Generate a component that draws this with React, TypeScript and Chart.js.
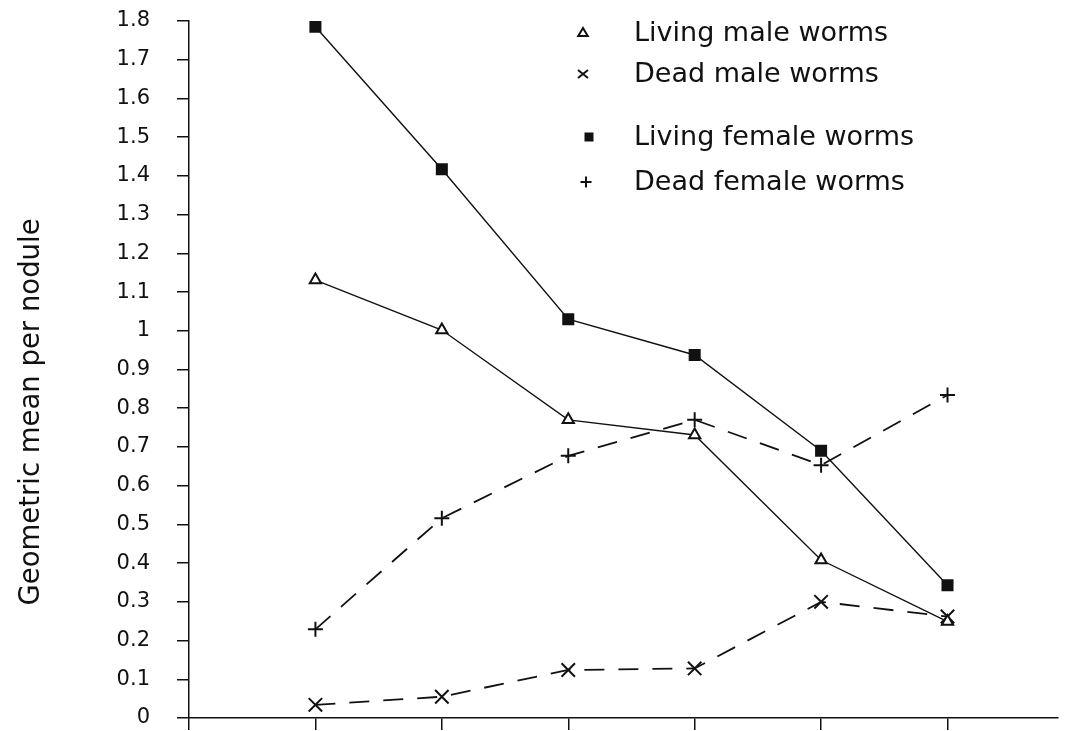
import React, { useEffect, useRef } from "react";
import { Chart, registerables } from "chart.js";

Chart.register(...registerables);

const xPositions = [1, 2, 3, 4, 5, 6];
const livingMale = [1.131, 1.002, 0.77, 0.731, 0.408, 0.249];
const deadMale = [0.034, 0.055, 0.124, 0.128, 0.3, 0.262];
const livingFemale = [1.785, 1.417, 1.03, 0.9375, 0.69, 0.343];
const deadFemale = [0.229, 0.516, 0.677, 0.77, 0.653, 0.834];

const yTickValues = [0, 0.1, 0.2, 0.3, 0.4, 0.5, 0.6, 0.7, 0.8, 0.9, 1, 1.1, 1.2, 1.3, 1.4, 1.5, 1.6, 1.7, 1.8];
const yTickLabels = ["0", "0.1", "0.2", "0.3", "0.4", "0.5", "0.6", "0.7", "0.8", "0.9", "1", "1.1", "1.2", "1.3", "1.4", "1.5", "1.6", "1.7", "1.8"];
const xTickValues = [0, 1, 2, 3, 4, 5, 6];

const seriesNames = ["Living male worms", "Dead male worms", "Living female worms", "Dead female worms"];
const yTitle = "Geometric mean per nodule";

const INK = "#111";
const FONT = "'DejaVu Sans', sans-serif";

function toPoints(vals: number[]) {
  return vals.map((v, i) => ({ x: xPositions[i], y: v }));
}

function drawMarker(ctx: CanvasRenderingContext2D, kind: string, x: number, y: number, r: number) {
  ctx.save();
  ctx.strokeStyle = INK;
  ctx.fillStyle = INK;
  ctx.lineWidth = 2;
  ctx.beginPath();
  if (kind === "triangle") {
    ctx.moveTo(x, y - r);
    ctx.lineTo(x + r * 0.95, y + r * 0.6);
    ctx.lineTo(x - r * 0.95, y + r * 0.6);
    ctx.closePath();
    ctx.stroke();
  } else if (kind === "crossRot") {
    ctx.moveTo(x - r, y - r * 0.8);
    ctx.lineTo(x + r, y + r * 0.8);
    ctx.moveTo(x + r, y - r * 0.8);
    ctx.lineTo(x - r, y + r * 0.8);
    ctx.stroke();
  } else if (kind === "rect") {
    ctx.fillRect(x - r, y - r, 2 * r, 2 * r);
  } else if (kind === "cross") {
    ctx.moveTo(x - r, y);
    ctx.lineTo(x + r, y);
    ctx.moveTo(x, y - r);
    ctx.lineTo(x, y + r);
    ctx.stroke();
  }
  ctx.restore();
}

const annotations = {
  id: "annotations",
  afterDraw(chart: any) {
    const ctx = chart.ctx as CanvasRenderingContext2D;
    ctx.save();
    ctx.translate(32, 412);
    ctx.rotate(-Math.PI / 2);
    ctx.font = `27.5px ${FONT}`;
    ctx.fillStyle = INK;
    ctx.textAlign = "center";
    ctx.textBaseline = "middle";
    ctx.fillText(yTitle, 0, 0);
    ctx.restore();

    const kinds = ["triangle", "crossRot", "rect", "cross"];
    const ys = [33, 74, 137, 182];
    const mx = [583, 583, 589, 586];
    const sizes = [5, 5, 4.5, 5.5];
    ctx.save();
    ctx.font = `27px ${FONT}`;
    ctx.fillStyle = INK;
    ctx.textAlign = "left";
    ctx.textBaseline = "middle";
    for (let i = 0; i < 4; i++) {
      drawMarker(ctx, kinds[i], mx[i], ys[i], sizes[i]);
      ctx.fillText(seriesNames[i], 634, ys[i] + 1);
    }
    ctx.restore();
  },
};

export default function App() {
  const ref = useRef<HTMLCanvasElement | null>(null);
  useEffect(() => {
    document.body.style.margin = "0";
    const canvas = ref.current;
    if (!canvas) return;
    const solid = { borderColor: INK, borderWidth: 1.4, pointBorderColor: INK, pointBorderWidth: 2, showLine: true, fill: false, tension: 0 };
    const dashed = { ...solid, borderWidth: 1.8, borderDash: [20, 14] };
    const chart = new Chart(canvas, {
      type: "scatter",
      data: {
        datasets: [
          { ...solid, label: seriesNames[0], data: toPoints(livingMale), pointStyle: "triangle", pointRadius: 6.5, pointBackgroundColor: "#fff" },
          { ...dashed, label: seriesNames[1], data: toPoints(deadMale), pointStyle: "crossRot", pointRadius: 9.5, pointBackgroundColor: INK },
          { ...solid, label: seriesNames[2], data: toPoints(livingFemale), pointStyle: "rect", pointRadius: 8.5, pointBackgroundColor: INK, pointBorderWidth: 0 },
          { ...dashed, label: seriesNames[3], data: toPoints(deadFemale), pointStyle: "cross", pointRadius: 7.5, pointBackgroundColor: INK },
        ],
      } as any,
      options: {
        animation: false,
        responsive: false,
        devicePixelRatio: 1,
        layout: { padding: { left: 0, right: 0, top: 21, bottom: 0 } },
        plugins: { legend: { display: false }, tooltip: { enabled: false } },
        scales: {
          x: {
            type: "linear",
            min: 0,
            max: 6.87,
            afterBuildTicks: (scale: any) => {
              scale.ticks = xTickValues.map((v) => ({ value: v }));
            },
            afterFit: (scale: any) => {
              scale.height = 13;
              scale.paddingLeft = 0;
              scale.paddingRight = 0;
              scale.paddingTop = 0;
              scale.paddingBottom = 0;
            },
            ticks: { display: false, autoSkip: false },
            grid: { drawOnChartArea: false, drawTicks: true, tickLength: 12, color: INK, lineWidth: 1.5 },
            border: { display: true, color: INK, width: 1.5 },
          },
          y: {
            type: "linear",
            min: 0,
            max: 1.8,
            afterBuildTicks: (scale: any) => {
              scale.ticks = yTickValues.map((v) => ({ value: v }));
            },
            afterFit: (scale: any) => {
              scale.width = 189;
              scale.paddingTop = 0;
              scale.paddingBottom = 0;
              scale.paddingLeft = 0;
              scale.paddingRight = 0;
            },
            ticks: {
              autoSkip: false,
              padding: 27,
              color: INK,
              font: { family: FONT, size: 21 },
              callback: (_v: any, i: number) => yTickLabels[i],
            },
            grid: { drawOnChartArea: false, drawTicks: true, tickLength: 12, color: INK, lineWidth: 1.5 },
            border: { display: true, color: INK, width: 1.5 },
          },
        },
      } as any,
      plugins: [annotations],
    });
    return () => chart.destroy();
  }, []);
  return (
    <div style={{ width: 1069, height: 731, background: "#fff" }}>
      <canvas ref={ref} width={1069} height={731} style={{ display: "block" }} />
    </div>
  );
}
